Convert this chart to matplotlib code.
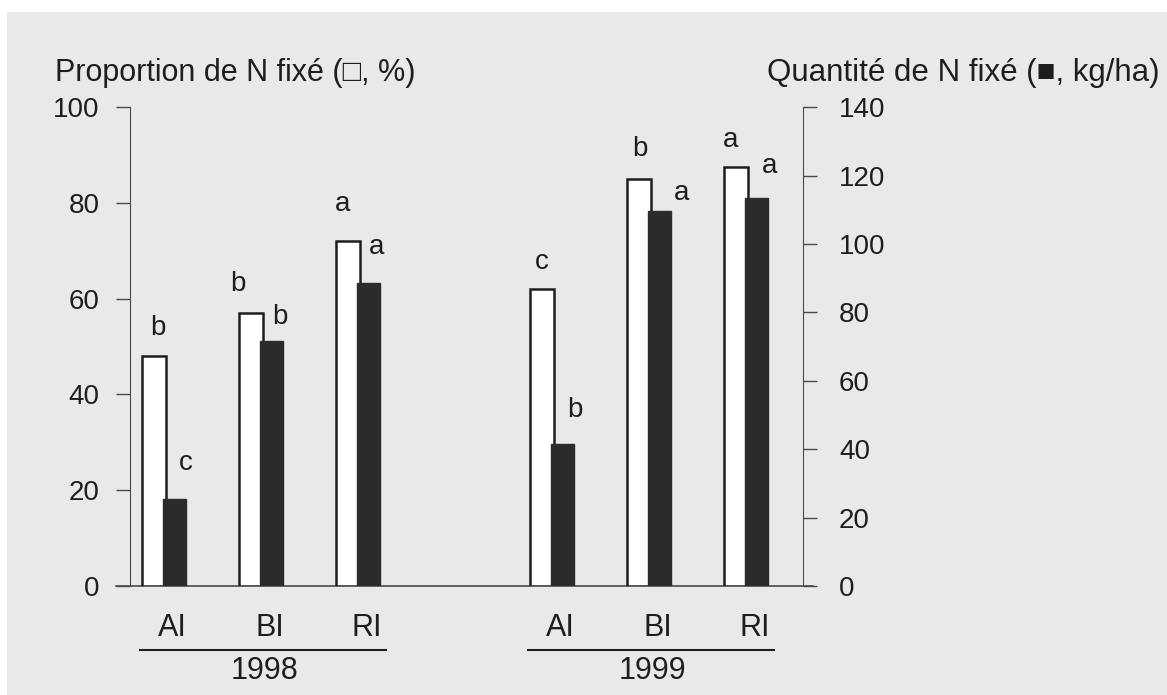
import numpy as np
import matplotlib
matplotlib.use('Agg')
import matplotlib.pyplot as plt
from matplotlib.patches import Rectangle

plt.rcParams['font.family'] = ['Liberation Sans', 'DejaVu Sans']

# data
years = ['1998', '1999']
cultivars = ['AI', 'BI', 'RI']
prop_pct = [48, 57, 72, 62, 85, 87.5]          # white bars, left axis (%)
qty_kg = [25.5, 71.5, 88.5, 41.5, 109.5, 113.5]  # black bars, right axis (kg/ha)
letters_prop = ['b', 'b', 'a', 'c', 'b', 'a']
letters_qty = ['c', 'b', 'a', 'b', 'a', 'a']

# hand placed letter offsets (pixels from bar top centre)
off_prop = [(4, 28), (-13, 29), (-6, 37), (0, 27), (1, 30), (-6, 27)]
off_qty = [(11, 36), (8, 24), (8, 36), (12, 34), (22, 18), (13, 32)]

bg = '#e9e9e9'
ink = '#1e1e1e'
axc = '#4a4a4a'

fig = plt.figure(figsize=(11.67, 6.95), dpi=100, facecolor='white')
fig.patches.append(Rectangle((0.006, 0), 0.994, 0.983, transform=fig.transFigure,
                             facecolor=bg, edgecolor='none', zorder=-10))

ax = fig.add_axes([0.1114, 0.1568, 0.5767, 0.689])
ax.set_facecolor('none')
ax2 = ax.twinx()

pos = np.array([0, 1, 2, 4, 5, 6])
w = 0.245
ax.bar(pos - 0.19, prop_pct, width=w, color='white', edgecolor=ink, linewidth=1.8, zorder=2)
ax2.bar(pos + 0.02, qty_kg, width=w, color='#2b2b2b', edgecolor='#2b2b2b', linewidth=1, zorder=3)

ax.set_xlim(-0.44, 6.5)
ax.set_ylim(0, 100)
ax2.set_ylim(0, 140)
ax.set_yticks(range(0, 101, 20))
ax2.set_yticks(range(0, 141, 20))
ax.set_xticks([])
ax2.set_xticks([])

for a in (ax, ax2):
    for s in ['top', 'bottom']:
        a.spines[s].set_visible(False)
ax.spines['right'].set_visible(False)
ax2.spines['left'].set_visible(False)
ax.spines['left'].set_color(axc)
ax2.spines['right'].set_color(axc)
ax.tick_params(axis='y', length=10, width=1, color=axc, pad=12, labelsize=20, labelcolor=ink)
ax2.tick_params(axis='y', length=10, width=1, color=axc, pad=16, labelsize=20, labelcolor=ink)

# baseline running a little past both spines
ax.plot([-0.58, 6.6], [0, 0], color=axc, lw=1.2, clip_on=False, zorder=1)

# letters
for i in range(len(pos)):
    ax.annotate(letters_prop[i], (pos[i] - 0.19, prop_pct[i]), xytext=off_prop[i],
                textcoords='offset pixels', ha='center', va='center', fontsize=20, color=ink)
    ax2.annotate(letters_qty[i], (pos[i] + 0.02, qty_kg[i]), xytext=off_qty[i],
                 textcoords='offset pixels', ha='center', va='center', fontsize=20, color=ink)

# category and year labels under the axis
tr = ax.get_xaxis_transform()
for i, p in enumerate(pos):
    ax.text(p, -0.088, cultivars[i % 3], transform=tr, ha='center', va='center',
            fontsize=22, color=ink)
for k, yr in enumerate(years):
    x0 = pos[3 * k]
    ax.plot([x0 - 0.34, x0 + 2.2], [-0.134, -0.134], transform=tr, color=ink, lw=1.5, clip_on=False)
    ax.text(x0 + 0.95, -0.177, yr, transform=tr, ha='center', va='center', fontsize=22, color=ink)

fig.text(0.047, 0.895, 'Proportion de N fixé (\u25a1, %)', fontsize=22, color=ink,
         ha='left', va='center')
fig.text(0.994, 0.895, 'Quantité de N fixé (\u25a0, kg/ha)', fontsize=22.5, color=ink,
         ha='right', va='center')

fig.savefig('out.png', dpi=100, facecolor=fig.get_facecolor())
